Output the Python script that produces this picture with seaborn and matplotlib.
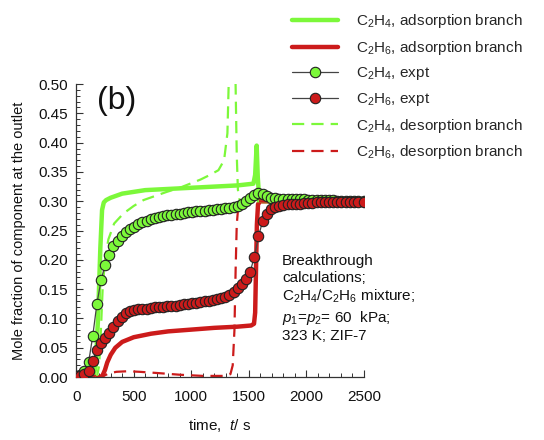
import matplotlib
matplotlib.use("Agg")
import matplotlib.pyplot as plt
import seaborn as sns
import numpy as np
import pandas as pd
from matplotlib.ticker import MultipleLocator

# ---------------- data ----------------
# C2H4 adsorption branch (simulation)
t_c2h4_ads = [0, 150, 170, 190, 210, 225, 240, 260, 300, 400, 600, 1000, 1400, 1540,
              1555, 1568, 1578, 1590, 1620, 2500]
y_c2h4_ads = [0, 0, 0.02, 0.10, 0.22, 0.285, 0.298, 0.302, 0.306, 0.313, 0.319, 0.323,
              0.327, 0.330, 0.345, 0.395, 0.34, 0.305, 0.300, 0.300]

# C2H6 adsorption branch (simulation)
t_c2h6_ads = [0, 210, 230, 250, 270, 300, 340, 400, 500, 650, 800, 1000, 1200, 1400,
              1520, 1545, 1555, 1562, 1570, 1580, 1600, 2500]
y_c2h6_ads = [0, 0, 0.003, 0.012, 0.025, 0.038, 0.050, 0.060, 0.068, 0.074, 0.078,
              0.081, 0.084, 0.086, 0.088, 0.091, 0.11, 0.18, 0.26, 0.295, 0.300, 0.300]

# C2H4 desorption branch (simulation)
t_c2h4_des = [0, 180, 200, 215, 230, 250, 280, 330, 410, 500, 585, 700, 787, 900, 990,
              1080, 1163, 1236, 1285, 1314, 1325, 1335, 1375, 1385, 1395, 1405, 1420,
              1450, 2500]
y_c2h4_des = [0, 0, 0.02, 0.08, 0.15, 0.20, 0.235, 0.262, 0.279, 0.292, 0.302, 0.310,
              0.316, 0.323, 0.330, 0.337, 0.345, 0.353, 0.370, 0.416, 0.50, 0.60,
              0.60, 0.50, 0.38, 0.32, 0.302, 0.300, 0.300]

# C2H6 desorption branch (simulation)
t_c2h6_des = [0, 200, 240, 280, 350, 450, 550, 700, 900, 1100, 1300, 1340, 1360, 1375,
              1385, 1395, 1410, 1430, 2500]
y_c2h6_des = [0, 0, 0.002, 0.006, 0.009, 0.010, 0.009, 0.007, 0.004, 0.002, 0.002,
              0.005, 0.02, 0.08, 0.18, 0.26, 0.295, 0.300, 0.300]

# Experimental data
t_expt = [0, 36, 72, 108, 144, 180, 216, 252, 288, 324, 360, 396, 432, 468, 504, 540,
          576, 612, 648, 684, 720, 756, 792, 828, 864, 900, 936, 972, 1008, 1044, 1080,
          1116, 1152, 1188, 1224, 1260, 1296, 1332, 1368, 1404, 1440, 1476, 1512, 1548,
          1584, 1620, 1656, 1692, 1728, 1764, 1800, 1836, 1872, 1908, 1944, 1980, 2016,
          2052, 2088, 2124, 2160, 2196, 2232, 2268, 2304, 2340, 2376, 2412, 2448, 2500]
y_c2h4_expt = [0.000, 0.003, 0.010, 0.025, 0.070, 0.125, 0.165, 0.192, 0.208, 0.223,
               0.233, 0.241, 0.247, 0.252, 0.256, 0.261, 0.264, 0.267, 0.269, 0.271,
               0.273, 0.275, 0.276, 0.277, 0.278, 0.279, 0.280, 0.281, 0.282, 0.283,
               0.284, 0.284, 0.285, 0.285, 0.286, 0.287, 0.288, 0.289, 0.290, 0.292,
               0.296, 0.301, 0.306, 0.311, 0.314, 0.313, 0.309, 0.306, 0.305, 0.304,
               0.303, 0.303, 0.303, 0.303, 0.303, 0.303, 0.302, 0.302, 0.302, 0.302,
               0.302, 0.302, 0.302, 0.301, 0.301, 0.301, 0.301, 0.301, 0.301, 0.301]
y_c2h6_expt = [0.001, 0.002, 0.005, 0.011, 0.028, 0.046, 0.058, 0.066, 0.075, 0.085,
               0.095, 0.103, 0.109, 0.113, 0.115, 0.116, 0.117, 0.117, 0.118, 0.119,
               0.120, 0.120, 0.121, 0.122, 0.122, 0.123, 0.124, 0.125, 0.126, 0.127,
               0.128, 0.129, 0.130, 0.132, 0.133, 0.135, 0.137, 0.140, 0.145, 0.152,
               0.159, 0.167, 0.180, 0.205, 0.240, 0.266, 0.279, 0.286, 0.290, 0.292,
               0.294, 0.295, 0.295, 0.296, 0.296, 0.297, 0.297, 0.297, 0.298, 0.298,
               0.298, 0.298, 0.298, 0.299, 0.299, 0.299, 0.299, 0.299, 0.299, 0.299]

labels = [r"$\mathregular{C_2H_4}$, adsorption branch",
          r"$\mathregular{C_2H_6}$, adsorption branch",
          r"$\mathregular{C_2H_4}$, expt",
          r"$\mathregular{C_2H_6}$, expt",
          r"$\mathregular{C_2H_4}$, desorption branch",
          r"$\mathregular{C_2H_6}$, desorption branch"]

# ---------------- style ----------------
sns.set_style("white")
plt.rcParams["font.family"] = ["Liberation Sans", "DejaVu Sans"]
plt.rcParams["mathtext.fontset"] = "custom"
plt.rcParams["mathtext.rm"] = "Liberation Sans"
plt.rcParams["mathtext.it"] = "Liberation Sans:italic"
plt.rcParams["mathtext.bf"] = "Liberation Sans:bold"

GREEN = "#7CF83A"
RED = "#CC1B1B"

fig = plt.figure(figsize=(5.44, 4.40), dpi=100)
ax = fig.add_axes([0.140, 0.143, 0.529, 0.666])

sns.lineplot(x=t_c2h4_ads, y=y_c2h4_ads, ax=ax, color=GREEN, lw=3.2, label=labels[0],
             estimator=None, sort=False, zorder=2)
sns.lineplot(x=t_c2h6_ads, y=y_c2h6_ads, ax=ax, color=RED, lw=3.2, label=labels[1],
             estimator=None, sort=False, zorder=2)
sns.lineplot(x=t_c2h4_des, y=y_c2h4_des, ax=ax, color=GREEN, lw=1.6, label=labels[4],
             estimator=None, sort=False, dashes=False, zorder=2)
sns.lineplot(x=t_c2h6_des, y=y_c2h6_des, ax=ax, color=RED, lw=1.6, label=labels[5],
             estimator=None, sort=False, dashes=False, zorder=2)
for ln in ax.lines[2:4]:
    ln.set_dashes((5.5, 3.2))
sns.lineplot(x=t_expt, y=y_c2h4_expt, ax=ax, color="#444444", lw=0.9, marker="o",
             markersize=7.5, markerfacecolor=GREEN, markeredgecolor="#222222",
             markeredgewidth=0.8, label=labels[2], estimator=None, sort=False, zorder=3)
sns.lineplot(x=t_expt, y=y_c2h6_expt, ax=ax, color="#444444", lw=0.9, marker="o",
             markersize=7.5, markerfacecolor=RED, markeredgecolor="#222222",
             markeredgewidth=0.8, label=labels[3], estimator=None, sort=False, zorder=4)

ax.set_xlim(0, 2500)
ax.set_ylim(0, 0.5)
ax.xaxis.set_major_locator(MultipleLocator(500))
ax.xaxis.set_minor_locator(MultipleLocator(100))
ax.yaxis.set_major_locator(MultipleLocator(0.05))
ax.yaxis.set_minor_locator(MultipleLocator(0.01))
ax.yaxis.set_major_formatter(matplotlib.ticker.FormatStrFormatter("%.2f"))

for s in ["top", "right"]:
    ax.spines[s].set_visible(False)
for s in ["left", "bottom"]:
    ax.spines[s].set_color("#333333")
    ax.spines[s].set_linewidth(0.9)
ax.tick_params(axis="both", which="both", bottom=True, left=True, top=False, right=False)
ax.tick_params(axis="both", which="major", direction="in", length=5, width=0.8,
               color="#333333", labelsize=11, labelcolor="#111111")
ax.tick_params(axis="both", which="minor", direction="in", length=3, width=0.7,
               color="#333333")
ax.tick_params(axis="x", which="major", pad=9)
ax.tick_params(axis="y", which="major", pad=6)

ax.set_xlabel(r"time,  $t$/ s", fontsize=11, labelpad=10, color="#111111")
ax.set_ylabel("Mole fraction of component at the outlet", fontsize=10.5,
              labelpad=9, color="#111111")

ax.text(185, 0.497, "(b)", fontsize=23, va="top", ha="left", color="#111111")
ax.text(1790, 0.210,
        "Breakthrough\ncalculations;\n"
        r"$\mathregular{C_2H_4/C_2H_6}$ mixture;" "\n"
        r"$p_\mathregular{1}$=$p_\mathregular{2}$= 60  kPa;" "\n"
        "323 K; ZIF-7",
        fontsize=11, va="top", ha="left", linespacing=1.25, color="#111111")

handles, labs = ax.get_legend_handles_labels()
hmap = dict(zip(labs, handles))
ax.legend([hmap[l] for l in labels], labels, loc="upper left",
          bbox_to_anchor=(0.537, 0.972), bbox_transform=fig.transFigure,
          frameon=False, fontsize=11, handlelength=3.0, handletextpad=1.2,
          labelspacing=0.56, borderpad=0, borderaxespad=0)

fig.savefig("out.png", dpi=100)
